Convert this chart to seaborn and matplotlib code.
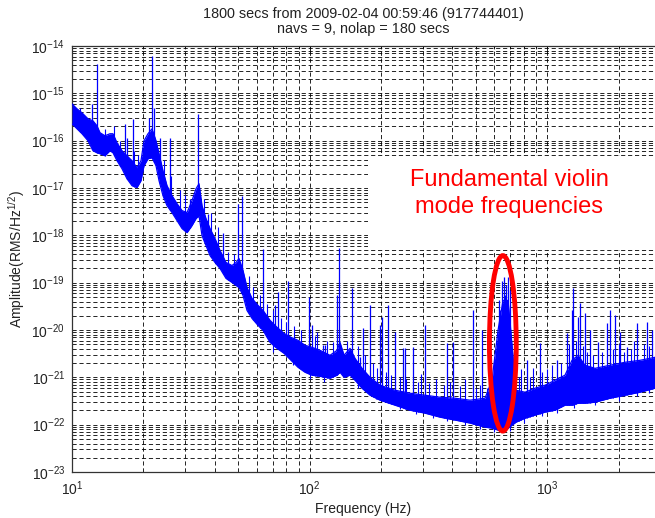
import numpy as np
import pandas as pd
import matplotlib
matplotlib.use("Agg")
import matplotlib.pyplot as plt
import seaborn as sns
from matplotlib.patches import Ellipse, Rectangle
from matplotlib.ticker import FixedLocator, NullFormatter

# ---------------- data ----------------
# noise band: frequency (Hz), upper and lower envelope of the spectrum
band_freq = [10.0, 10.5, 11.02, 11.68, 12.26, 12.74, 13.12, 13.77, 14.45, 14.88,
             15.47, 16.24, 17.04, 17.89, 18.78, 19.52, 20.10, 20.89, 21.72, 22.58,
             23.25, 24.16, 25.12, 26.37, 27.68, 29.06, 30.50, 32.01, 33.28, 34.26,
             35.27, 36.66, 38.12, 40.00, 42.01, 44.51, 47.17, 49.04, 50.49, 52.48,
             54.56, 57.27, 60.71, 63.72, 68.20, 72.97, 78.07, 83.60, 89.46, 95.74,
             102.4, 110.7, 122.0, 130.6, 134.4, 139.8, 148.1, 155.4, 166.4, 179.8,
             198.1, 229.1, 264.9, 306.4, 354.4, 409.9, 474.1, 548.2, 586.7, 622.0,
             652.9, 685.4, 712.5, 740.7, 808.1, 890.2, 980.8, 1080.6, 1190.6, 1274.6,
             1350.5, 1445.4, 1592.4, 1842.0, 2130.0, 2464.0, 2849.0]
band_high = [5.99e-16, 4.70e-16, 3.87e-16, 2.89e-16, 2.62e-16, 2.06e-16, 1.47e-16, 1.27e-16, 1.40e-16, 1.40e-16,
             9.02e-17, 6.12e-17, 4.80e-17, 3.77e-17, 2.68e-17, 3.77e-17, 9.94e-17, 1.40e-16, 1.78e-16, 9.94e-17,
             5.29e-17, 2.32e-17, 1.12e-17, 6.89e-18, 4.67e-18, 3.33e-18, 3.02e-18, 5.40e-18, 9.68e-18, 1.23e-17,
             4.24e-18, 2.26e-18, 1.39e-18, 8.55e-19, 4.77e-19, 2.67e-19, 2.30e-19, 2.67e-19, 3.24e-19, 1.81e-19,
             7.92e-20, 4.65e-20, 3.31e-20, 2.59e-20, 1.60e-20, 1.14e-20, 8.50e-21, 7.00e-21, 6.05e-21, 4.75e-21,
             4.31e-21, 3.72e-21, 2.92e-21, 3.72e-21, 5.49e-21, 2.92e-21, 4.10e-21, 2.52e-21, 1.55e-21, 1.00e-21,
             6.81e-22, 5.34e-22, 4.62e-22, 4.19e-22, 3.80e-22, 3.62e-22, 3.29e-22, 3.62e-22, 8.68e-22, 9.83e-21,
             4.21e-20, 4.21e-20, 4.75e-21, 5.34e-22, 4.85e-22, 5.89e-22, 6.81e-22, 8.68e-22, 1.11e-21, 2.29e-21,
             2.92e-21, 1.80e-21, 1.55e-21, 1.80e-21, 2.08e-21, 2.29e-21, 2.65e-21]
band_low = [2.27e-16, 1.78e-16, 1.40e-16, 9.94e-17, 6.12e-17, 5.55e-17, 5.29e-17, 4.80e-17, 6.12e-17, 5.55e-17,
            3.77e-17, 2.55e-17, 1.57e-17, 1.12e-17, 1.02e-17, 1.43e-17, 2.95e-17, 4.15e-17, 4.36e-17, 2.95e-17,
            1.43e-17, 6.89e-18, 4.24e-18, 3.02e-18, 2.05e-18, 1.39e-18, 1.14e-18, 1.61e-18, 2.26e-18, 2.61e-18,
            9.88e-19, 6.08e-19, 3.74e-19, 2.67e-19, 1.99e-19, 1.23e-19, 1.01e-19, 8.73e-20, 7.92e-20, 5.37e-20,
            2.59e-20, 1.76e-20, 1.25e-20, 9.83e-21, 5.49e-21, 4.10e-21, 3.22e-21, 2.29e-21, 1.63e-21, 1.28e-21,
            1.11e-21, 1.05e-21, 9.56e-22, 1.11e-21, 1.28e-21, 1.00e-21, 1.11e-21, 8.68e-22, 5.89e-22, 4.19e-22,
            3.29e-22, 2.58e-22, 2.02e-22, 1.75e-22, 1.44e-22, 1.25e-22, 1.08e-22, 8.87e-23, 8.45e-23, 7.66e-23,
            7.66e-23, 8.45e-23, 9.77e-23, 1.13e-22, 1.37e-22, 1.59e-22, 1.84e-22, 2.02e-22, 2.58e-22, 2.58e-22,
            2.84e-22, 2.84e-22, 2.98e-22, 3.62e-22, 4.19e-22, 4.85e-22, 5.89e-22]

# narrow spectral lines: frequency (Hz) and peak amplitude
spike_freq = [11.68, 12.14, 12.74, 16.72, 17.04, 18.06, 21.10, 21.72, 22.14, 23.47,
              25.86, 31.40, 33.93, 37.38, 43.23, 50.01, 51.97, 63.72, 71.56, 73.68,
              81.22, 99.52, 102.4, 114.0, 116.2, 130.6, 133.1, 151.0, 163.2, 168.0,
              179.8, 198.1, 202.0, 214.1, 229.1, 247.5, 252.5, 272.8, 306.4, 379.2,
              402.0, 488.1, 532.4, 628.0, 634.1, 646.5, 659.1, 665.5, 672.1, 685.4,
              698.8, 823.9, 934.3, 1102.0, 1214.0, 1274.6, 1287.0, 1350.5, 1377.0, 1445.4,
              1517.0, 1640.0, 1789.0, 1842.0, 1933.0, 2030.0, 2172.0, 2393.0, 2638.0, 2768.0]
spike_top = [2.62e-16, 5.99e-16, 4.17e-15, 2.27e-16, 1.15e-16, 2.89e-16, 3.04e-16, 6.15e-15, 4.93e-16, 1.15e-16,
             1.15e-16, 5.95e-18, 3.69e-16, 2.87e-18, 1.14e-18, 4.67e-18, 6.89e-18, 5.26e-19, 3.31e-20, 6.21e-20,
             1.11e-19, 4.88e-20, 1.25e-20, 4.75e-21, 4.75e-21, 5.37e-20, 5.52e-19, 7.55e-20, 2.65e-21, 1.08e-20,
             3.31e-20, 1.25e-20, 1.85e-20, 3.31e-20, 8.92e-21, 4.10e-21, 4.10e-21, 4.31e-21, 1.25e-20, 5.23e-21,
             5.49e-21, 2.59e-20, 9.83e-21, 4.21e-20, 2.59e-20, 1.11e-19, 1.29e-19, 5.37e-20, 8.73e-20, 1.29e-19,
             6.85e-20, 2.29e-21, 5.23e-21, 2.29e-21, 8.50e-21, 2.59e-20, 7.55e-20, 1.85e-20, 3.64e-20, 2.24e-20,
             9.83e-21, 5.49e-21, 1.38e-20, 2.59e-20, 2.04e-20, 8.92e-21, 4.31e-21, 1.38e-20, 1.45e-20, 9.83e-21]

# short noise excursions above the band (Hz, amplitude)
hair_freq = [10.8, 13.8, 15.0, 16.0, 18.3, 19.0, 24.5, 26.0, 28.5, 30.0,
             36.0, 38.5, 41.0, 45.5, 48.0, 55.5, 58.0, 62.0, 66.0, 70.0,
             76.0, 80.0, 86.0, 92.0, 105.0, 108.0, 118.0, 125.0, 144.0, 160.0,
             172.0, 185.0, 192.0, 210.0, 220.0, 240.0, 255.0, 285.0, 295.0, 320.0,
             340.0, 370.0, 390.0, 430.0, 450.0, 500.0, 520.0, 560.0, 600.0, 760.0,
             780.0, 850.0, 870.0, 950.0, 1000.0, 1050.0, 1150.0, 1240.0, 1320.0, 1420.0,
             1480.0, 1560.0, 1700.0, 1900.0, 2000.0, 2100.0, 2250.0, 2330.0, 2550.0, 2700.0]
hair_top = [5.0e-16, 1.8e-16, 2.0e-16, 1.0e-16, 6.0e-17, 5.0e-17, 4.0e-17, 1.8e-17, 9.0e-18, 7.0e-18,
            6.0e-18, 3.0e-18, 1.5e-18, 4.5e-19, 4.0e-19, 1.4e-19, 8.0e-20, 5.5e-20, 3.5e-20, 2.6e-20,
            1.8e-20, 1.5e-20, 1.2e-20, 1.0e-20, 7.5e-21, 9.0e-21, 6.0e-21, 5.5e-21, 6.0e-21, 4.5e-21,
            3.0e-21, 2.0e-21, 1.6e-21, 1.3e-21, 1.1e-21, 1.0e-21, 9.0e-22, 8.0e-22, 1.2e-21, 7.5e-22,
            9.0e-22, 7.0e-22, 8.0e-22, 6.5e-22, 9.0e-22, 6.0e-22, 7.0e-22, 6.0e-22, 2.0e-21, 1.0e-21,
            1.5e-21, 1.0e-21, 1.6e-21, 1.3e-21, 1.5e-21, 1.8e-21, 2.0e-21, 5.0e-21, 6.0e-21, 4.5e-21,
            3.5e-21, 3.0e-21, 3.5e-21, 4.0e-21, 5.0e-21, 3.5e-21, 4.0e-21, 6.0e-21, 5.0e-21, 4.5e-21]

# short noise excursions below the band (Hz, amplitude)
dip_freq = [70.0, 85.0, 100.0, 115.0, 160.0, 190.0, 240.0, 280.0, 330.0, 380.0,
            450.0, 520.0, 600.0, 700.0, 800.0, 950.0, 1100.0, 1300.0, 1600.0, 2000.0,
            2400.0, 2700.0]
dip_bottom = [3.5e-21, 1.8e-21, 9.0e-22, 8.0e-22, 6.0e-22, 3.5e-22, 2.1e-22, 1.7e-22, 1.4e-22, 1.2e-22,
              1.0e-22, 8.0e-23, 7.0e-23, 7.5e-23, 1.1e-22, 1.5e-22, 1.8e-22, 2.2e-22, 2.6e-22, 3.2e-22,
              4.0e-22, 4.6e-22]

title_text = "1800 secs from 2009-02-04 00:59:46 (917744401)\nnavs = 9, nolap = 180 secs"
x_label = "Frequency (Hz)"
y_label = "Amplitude(RMS/Hz$^{1/2}$)"
note_text = "Fundamental violin\nmode frequencies"
x_ticks = [10, 100, 1000]
y_ticks = [1e-23, 1e-22, 1e-21, 1e-20, 1e-19, 1e-18, 1e-17, 1e-16, 1e-15, 1e-14]
x_range = (10, 2849)
y_range = (1e-23, 1e-14)

# ---------------- style ----------------
sns.set_theme(style="white")
plt.rcParams['font.family'] = ['Liberation Sans', 'DejaVu Sans']
plt.rcParams['mathtext.fontset'] = 'custom'
plt.rcParams['mathtext.rm'] = 'Liberation Sans'
plt.rcParams['mathtext.it'] = 'Liberation Sans:italic'
plt.rcParams['mathtext.bf'] = 'Liberation Sans:bold'
plt.rcParams['lines.scale_dashes'] = False

BLUE = '#0000ff'

fig = plt.figure(figsize=(6.55, 5.18), dpi=100)
ax = fig.add_axes([72 / 655, 46 / 518, 583 / 655, 426 / 518])
ax.set_xscale('log')
ax.set_yscale('log')

# noise band
ax.fill_between(band_freq, band_low, band_high, color=BLUE, lw=0, zorder=3)
n = len(band_freq)
df = pd.DataFrame({'freq': band_freq + band_freq,
                   'amp': band_high + band_low,
                   'edge': ['high'] * n + ['low'] * n})
sns.lineplot(data=df, x='freq', y='amp', units='edge', estimator=None,
             color=BLUE, lw=0.9, sort=False, legend=False, ax=ax, zorder=3)

log_f = np.log10(band_freq)
# spectral lines rising out of the band
base = 10 ** np.interp(np.log10(spike_freq), log_f, np.log10(band_low))
ax.vlines(spike_freq, base, spike_top, color=BLUE, lw=0.9, zorder=3)
# hairs above and below the band
hair_base = 10 ** np.interp(np.log10(hair_freq), log_f, np.log10(band_low))
ax.vlines(hair_freq, hair_base, hair_top, color=BLUE, lw=0.8, zorder=3)
dip_base = 10 ** np.interp(np.log10(dip_freq), log_f, np.log10(band_high))
ax.vlines(dip_freq, dip_bottom, dip_base, color=BLUE, lw=0.8, zorder=3)

ax.set_xlim(*x_range)
ax.set_ylim(*y_range)

ax.xaxis.set_major_locator(FixedLocator(x_ticks))
ax.yaxis.set_major_locator(FixedLocator(y_ticks))
x_minor = [m * d for d in (10, 100, 1000) for m in range(2, 10) if m * d < x_range[1]]
y_minor = [m * t for t in y_ticks[:-1] for m in range(2, 10)]
ax.xaxis.set_minor_locator(FixedLocator(x_minor))
ax.yaxis.set_minor_locator(FixedLocator(y_minor))
ax.xaxis.set_minor_formatter(NullFormatter())
ax.yaxis.set_minor_formatter(NullFormatter())

ax.grid(True, which='both', color='black', linestyle=(0, (3, 2)), lw=0.6, zorder=0)
ax.set_axisbelow(True)
ax.tick_params(which='both', direction='in', top=True, right=False, colors='black',
               labelsize=10, labelcolor='#222222')
ax.tick_params(which='major', length=4, width=0.6, pad=5)
ax.tick_params(which='minor', length=2, width=0.5)
for side in ['left', 'bottom', 'top']:
    ax.spines[side].set_color('#333333')
    ax.spines[side].set_linewidth(0.9)
ax.spines['right'].set_visible(False)

ax.set_title(title_text, fontsize=10.4, color='#222222', pad=9, linespacing=1.15)
ax.set_xlabel(x_label, fontsize=10, color='#222222', labelpad=3)
ax.set_ylabel(y_label, fontsize=10, color='#222222', labelpad=3)

# white box with annotation
ax.add_patch(Rectangle((0.508, 0.520), 0.50, 0.222, transform=ax.transAxes,
                       facecolor='white', edgecolor='none', zorder=2, clip_on=False))
ax.text(0.75, 0.653, note_text, transform=ax.transAxes, ha='center', va='center',
        color='#ff0000', fontsize=17, linespacing=1.3, zorder=6)

# red ellipse around the violin modes
ax.add_patch(Ellipse((0.739, 0.302), 0.046, 0.412, transform=ax.transAxes,
                     facecolor='none', edgecolor='#ff0000', lw=3.5, zorder=5))

fig.savefig("out.png", dpi=100)
